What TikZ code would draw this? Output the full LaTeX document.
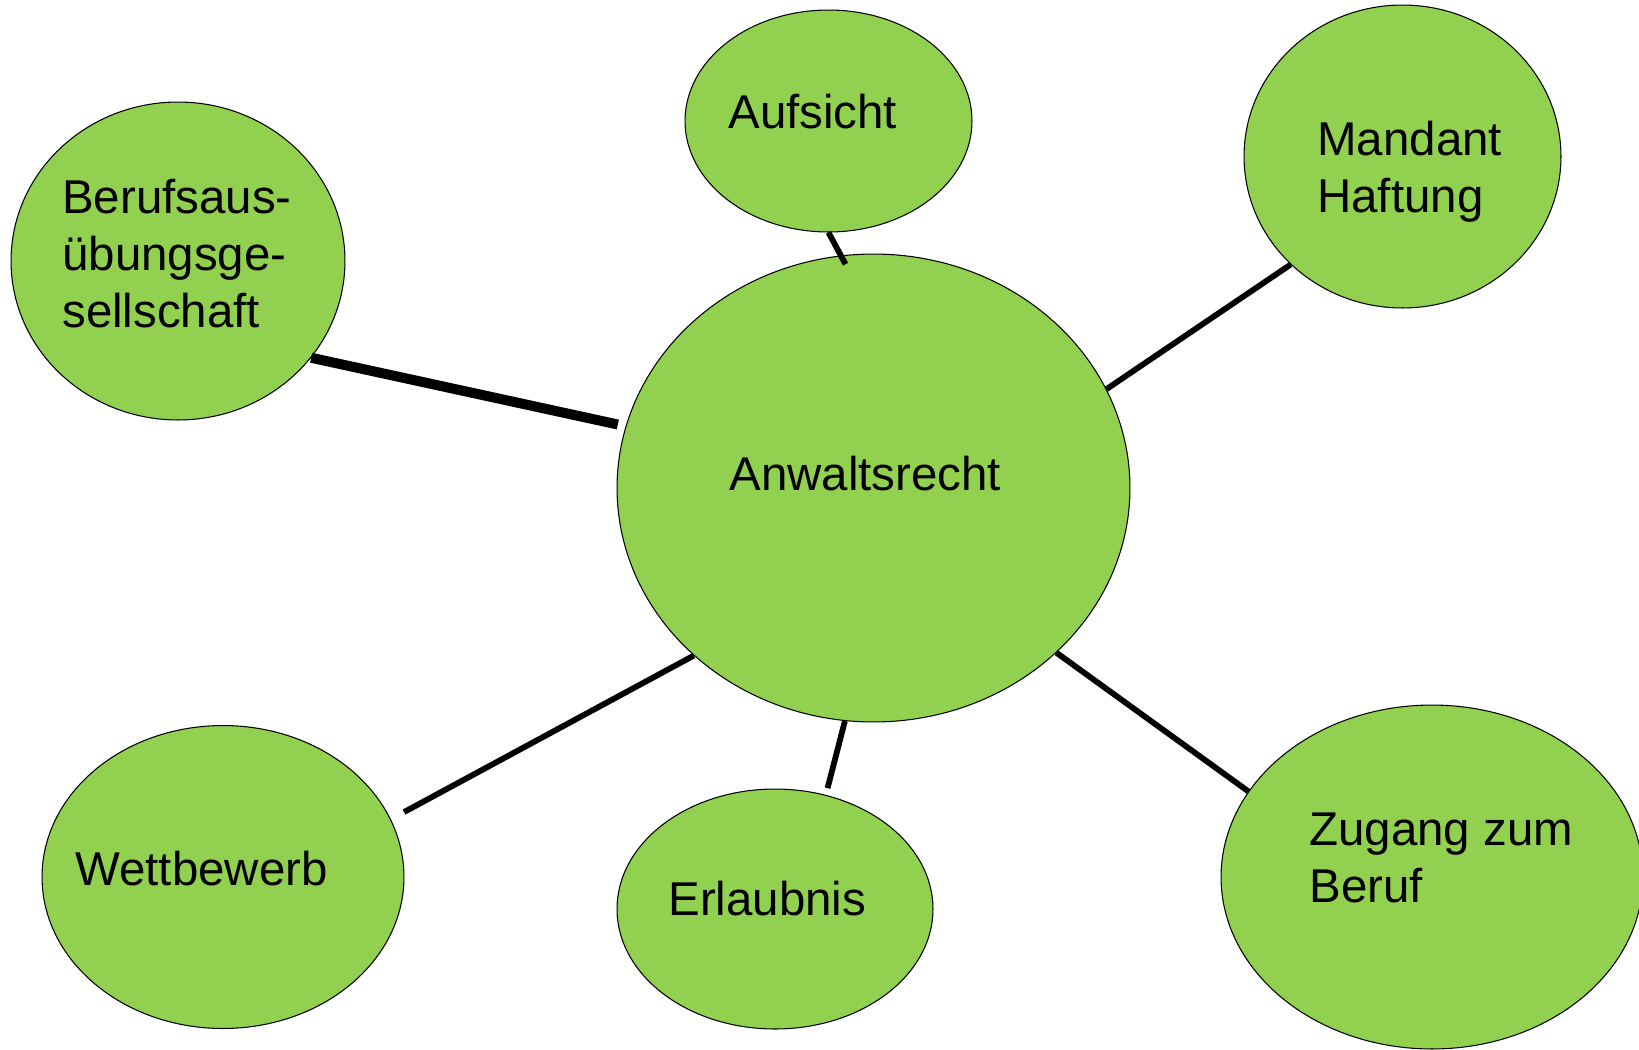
\documentclass[tikz,border=0pt]{standalone}
\usepackage{fontspec}
\setmainfont{Liberation Sans}
\usetikzlibrary{shapes.geometric, positioning}

\definecolor{topicgreen}{HTML}{92D050}
\tikzset{
	topic/.style={ellipse, draw, fill=topicgreen, line width=0.6pt, inner sep=0pt},
	caption/.style={anchor=base west, inner sep=0pt, align=left, font=\fontsize{27}{32.4}\selectfont},
	link/.style={line width=3.3pt}
}

\begin{document}
\begin{tikzpicture}[x=0.02cm, y=-0.02cm]
	\useasboundingbox (0,0) rectangle (1639,1049);
	\node[topic, minimum width=10.26cm, minimum height=9.36cm] (recht) at (873.5,488) {};
	\node[topic, minimum width=5.74cm, minimum height=4.44cm] (aufsicht) at (828.5,121) {};
	\node[topic, minimum width=6.34cm, minimum height=6.06cm] (mandant) at (1402.5,156.5) {};
	\node[topic, minimum width=6.68cm, minimum height=6.36cm] (beruf) at (178,261) {};
	\node[topic, minimum width=7.24cm, minimum height=6.06cm] (wett) at (223,877) {};
	\node[topic, minimum width=6.32cm, minimum height=4.8cm] (erlaubnis) at (775,909) {};
	\node[topic, minimum width=8.44cm, minimum height=6.88cm] (zugang) at (1432,877) {};
	
	% multi-line captions sit on their last baseline
	\node[caption] (rechttext) at (729,490) {Anwaltsrecht};
	\node[caption] (aufsichttext) at (728,128) {Aufsicht};
	\node[caption] (mandanttext) at (1317,212) {Mandant\\Haftung};
	\node[caption] (beruftext) at (62,327) {Berufsaus-\\übungsge-\\sellschaft};
	\node[caption] (wetttext) at (75,885) {Wettbewerb};
	\node[caption] (erlaubnistext) at (668,915) {Erlaubnis};
	\node[caption] (zugangtext) at (1309,902) {Zugang zum\\Beruf};
	
	\draw[link, line width=5.7pt, shorten >=0.16cm] (beruf.-36) -- (recht.166);
	\draw[link, shorten >=-0.2cm] (aufsicht.-90) -- (recht.98);
	\draw[link] (mandant.-136) -- (recht.23);
	\draw[link, shorten <=0.3cm] (wett.19) -- (recht.-137);
	\draw[link, shorten >=0.14cm] (recht.-97) -- (erlaubnis.66);
	\draw[link] (recht.-42) -- (zugang.155);
\end{tikzpicture}
\end{document}
